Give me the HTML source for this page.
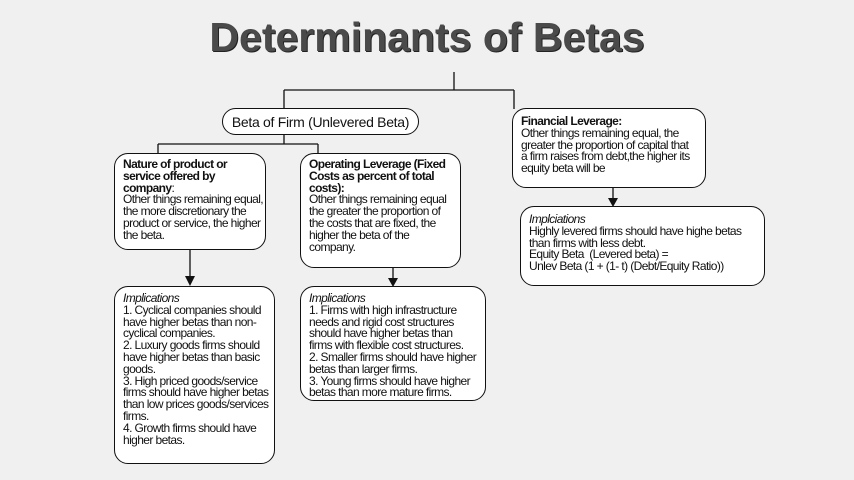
<!DOCTYPE html>
<html><head><style>
body{margin:0;width:854px;height:480px;background:#f0f0f0;position:relative;overflow:hidden;font-family:"Liberation Sans",Arial,sans-serif;}
.b{position:absolute;border:1.3px solid #111;background:#fff;border-radius:14px;box-sizing:border-box;font-size:12px;line-height:11.8px;letter-spacing:-0.6px;color:#111;padding:3px 8px;white-space:nowrap;}
.t{position:absolute;left:0;width:854px;top:14px;text-align:center;font-size:41px;font-weight:bold;color:#4a4a4a;text-shadow:1px 1px 0 #222;}
svg{position:absolute;left:0;top:0}
</style></head><body>
<div class="t">Determinants of Betas</div>
<svg width="854" height="480"><g stroke="#111" stroke-width="1.3" fill="none">
<path d="M454 72V90M284 90H514M284 90V109M514 90V109M284 134V144M158 144H318M158 144V153M318 144V153M190 249V278M393 267V279M613 187V199"/></g>
<g fill="#111"><path d="M185 276h10l-5 10z"/><path d="M388 278h10l-5 9z"/><path d="M608 198h10l-5 9z"/></g></svg>
<div class="b" style="left:222px;top:108px;width:197px;height:27px;border-radius:14px;font-size:14px;letter-spacing:-0.3px;line-height:27px;padding:0;text-align:center">Beta of Firm (Unlevered Beta)</div>
<div class="b" style="left:114px;top:153px;width:152px;height:97px;padding:5px 8px"><b>Nature of product or<br>service offered by<br>company</b>:<br>Other things remaining equal,<br>the more discretionary the<br>product or service, the higher<br>the beta.</div>
<div class="b" style="left:300px;top:153px;width:161px;height:115px;padding:5px 8px"><b>Operating Leverage (Fixed<br>Costs as percent of total<br>costs):</b><br>Other things remaining equal<br>the greater the proportion of<br>the costs that are fixed, the<br>higher the beta of the<br>company.</div>
<div class="b" style="left:114px;top:286px;width:161px;height:178px;padding:6px 8px"><i>Implications</i><br>1. Cyclical companies should<br>have higher betas than non-<br>cyclical companies.<br>2. Luxury goods firms should<br>have higher betas than basic<br>goods.<br>3. High priced goods/service<br>firms should have higher betas<br>than low prices goods/services<br>firms.<br>4. Growth firms should have<br>higher betas.</div>
<div class="b" style="left:300px;top:286px;width:186px;height:115px;padding:6px 8px"><i>Implications</i><br>1. Firms with high infrastructure<br>needs and rigid cost structures<br>should have higher betas than<br>firms with flexible cost structures.<br>2. Smaller firms should have higher<br>betas than larger firms.<br>3. Young firms should have higher<br>betas than more mature firms.</div>
<div class="b" style="left:512px;top:108px;width:194px;height:80px;padding:7px 8px"><b>Financial Leverage:</b><br>Other things remaining equal, the<br>greater the proportion of capital that<br>a firm raises from debt,the higher its<br>equity beta will be</div>
<div class="b" style="left:520px;top:206px;width:245px;height:80px;padding:7px 8px"><i>Implciations</i><br>Highly levered firms should have highe betas<br>than firms with less debt.<br>Equity Beta&nbsp; (Levered beta) =<br>Unlev Beta (1 + (1- t) (Debt/Equity Ratio))</div>
</body></html>
